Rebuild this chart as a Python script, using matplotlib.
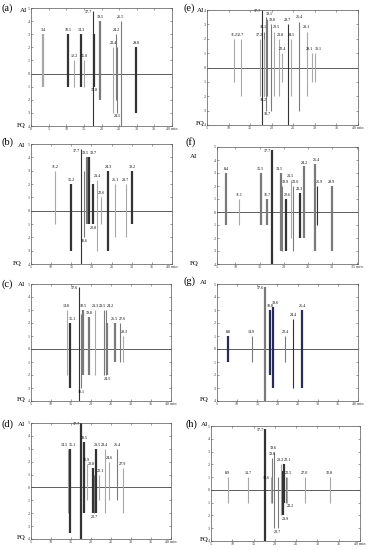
import matplotlib
matplotlib.use("Agg")
import matplotlib.pyplot as plt

plt.rcParams['font.family'] = ['Liberation Serif', 'DejaVu Serif']

W, H = 373, 550

# ---- data: retention time (min), upper (AI) and lower (FQ) extent, peak labels ----
a_pos = [3.4, 10.5, 12.2, 14.3, 15.0, 17.7, 17.8, 19.5, 23.4, 24.2, 24.5, 25.5, 29.8]
a_top = [3, 3, 1, 3, 1, 4.8, 3, 4, 2, 3, 2, 4, 2]
a_bot = [-1, -1, -1, -1, -1, -4, -1, -2, -3, -2, -3, -4, -3]
a_lab = ['3.4', '10.5', '12.2', '14.3', '15.0', '17.7', '17.8', '19.5', '23.4', '24.2', '24.5', '25.5', '29.8']

b_pos = [10.9, 14.9, 17.4, 18.1, 19.0, 19.4, 20.5, 21.3, 22.4, 24.2, 25.9, 28.5, 30.1]
b_top = [3, 2, 4.6, 3, 4, 4, 2, 2.3, 1, 3, 2, 2, 3]
b_bot = [-1, -3, -4, -2, -1, -1, -1, -3, -1, -3, -2, -2, -1]
b_lab = ['11.2', '15.2', '17.7', '18.6', '19.5', '19.7', '20.8', '21.4', '22.6', '24.3', '26.1', '28.7', '30.2']

c_pos = [14.1, 14.7, 17.1, 17.6, 18.1, 19.5, 21.0, 23.2, 23.7, 24.1, 26.1, 27.2, 28.0]
c_top = [3, 2, 4.8, 2.7, 3, 2.5, 3, 3, 3, 2, 2, 2, 1]
c_bot = [-2, -3, -4, -3, -2, -2, -2, -2, -2, -2, -1, -1, -1]
c_lab = ['14.8', '15.1', '17.6', '18.1', '18.5', '19.8', '21.3', '23.5', '24.2', '24.5', '26.5', '27.6', '28.3']

d_pos = [14.2, 14.8, 17.5, 18.3, 19.0, 20.4, 20.8, 21.2, 22.0, 23.4, 24.6, 26.5, 27.9]
d_top = [3, 3, 5, 3.5, 1.8, 1.5, 1, 3, 1, 3, 2, 3, 1.5]
d_bot = [-2, -3.5, -4, -2, -1, -2, -2, -2, -1, -2, -1, -1, -2]
d_lab = ['14.5', '15.1', '17.7', '18.5', '18.9', '20.8', '20.7', '21.5', '22.1', '23.4', '24.6', '26.4', '27.9']

e_pos = [11.3, 12.8, 17.2, 17.7, 18.1, 18.2, 18.6, 18.9, 19.8, 20.5, 21.8, 22.4, 23.7, 24.5, 26.4, 28.1, 29.3, 30.1]
e_top = [2, 2, 2, 4, 2.5, 2, 3.5, 3.4, 3, 2.5, 2, 1, 3, 2, 3.2, 2.5, 1, 1]
e_bot = [-1, -2, -2, -4, -2, -2, -3, -2, -3, -2, -2, -1, -4, -2, -3, -2, -1, -1]
e_lab = ['11.2', '12.7', '17.2', '17.7', '18.1', '18.2', '18.7', '19.1', '19.8', '20.5', '21.8', '22.4',
         '23.7', '24.5', '26.4', '28.1', '29.1', '30.1']

f_pos = [8.1, 10.8, 15.2, 16.6, 17.6, 19.4, 19.7, 20.4, 21.4, 21.9, 23.3, 24.2, 26.4, 26.9, 29.9]
f_top = [3, 1, 3, 1, 4.8, 3, 2, 1, 2.5, 2, 1.5, 3.5, 3.7, 2, 2]
f_bot = [-1, -1, -1, -1, -4, -3, -3, -3, -2, -3, -2, -2, -3, -1, -3]
f_lab = ['8.4', '11.1', '15.5', '16.7', '17.7', '19.5', '19.9', '20.6', '21.5', '22.0', '23.3', '24.2',
         '26.4', '26.9', '29.9']

g_pos = [7.8, 13.6, 16.9, 18.1, 18.9, 21.9, 23.9, 26.1]
g_top = [1, 1, 4.8, 3, 3.2, 1, 2.3, 3]
g_bot = [-1, -1, -4, -2, -3, -1, -3, -3]
g_lab = ['8.8', '14.9', '17.6', '18.8', '19.6', '22.4', '24.4', '26.4']

h_pos = [8.9, 13.7, 17.7, 19.0, 19.3, 19.7, 20.7, 21.4, 21.9, 22.1, 22.5, 22.9, 27.0, 32.9]
h_top = [1, 1, 4.8, 1, 2.5, 3, 1, 2, 1.5, 2, 1, 1, 1, 1]
h_bot = [-1, -1, -4, -1, -1, -3, -3, -2, -2, -1, -1, -1, -1, -1]
h_lab = ['8.9', '13.7', '17.7', '18.6', '19.6', '19.6', '20.7', '21.2', '21.9', '22.1', '22.5', '23.2',
         '27.0', '32.8']

# ---- styles (tone per line: l light, m mid, d dark, n navy; upper case = thick) ----
TONES = {'l': '#a8a8a8', 'm': '#7a7a7a', 'd': '#333333', 'n': '#262b5c'}
a_sty = ['L', 'D', 'l', 'D', 'l', 'd', 'D', 'M', 'l', 'm', 'm', 'm', 'D']
b_sty = ['l', 'D', 'd', 'm', 'M', 'D', 'D', 'l', 'l', 'D', 'l', 'l', 'D']
c_sty = ['l', 'D', 'd', 'm', 'M', 'M', 'l', 'm', 'm', 'M', 'M', 'm', 'l']
d_sty = ['l', 'D', 'D', 'D', 'l', 'D', 'm', 'D', 'l', 'l', 'l', 'm', 'l']
e_sty = ['l', 'l', 'l', 'd', 'm', 'l', 'm', 'm', 'm', 'l', 'l', 'l', 'd', 'l', 'm', 'l', 'l', 'l']
f_sty = ['M', 'l', 'M', 'M', 'D', 'M', 'm', 'D', 'l', 'm', 'D', 'M', 'M', 'd', 'M']
g_sty = ['N', 'm', 'M', 'N', 'N', 'm', 'n', 'N']
h_sty = ['l', 'l', 'D', 'l', 'm', 'm', 'm', 'l', 'D', 'D', 'm', 'l', 'l', 'l']

# labels drawn below the lower end / to the left of the top
BELOW = {'a': ['17.8', '24.5'], 'b': ['18.6', '20.8'], 'c': ['18.1', '24.5'], 'd': ['20.7'],
         'e': ['18.2', '18.7'], 'f': [], 'g': [], 'h': ['20.7', '21.9', '23.2']}
LEFT = {'a': ['17.7'], 'b': ['17.7'], 'c': ['17.6'], 'd': ['17.7'], 'e': ['17.7'],
        'f': ['17.7'], 'g': ['17.6'], 'h': ['17.7', '18.6']}
# sideways nudges of crowded labels (minutes)
SHIFT = {'b': {'19.5': -0.6, '19.7': 1.1, '21.4': 0.3},
         'c': {'14.8': -0.4, '15.1': 0.6, '23.5': -0.3, '24.2': 1.2, '26.5': -0.3, '27.6': 0.7,
               '28.3': 0.4},
         'd': {'14.5': -0.8, '15.1': 0.5, '18.9': -0.2, '20.8': -0.3, '21.5': 0.3, '22.1': 0.3},
         'e': {'19.1': 0.5, '19.8': 0.3, '20.5': 0.5, '21.8': 0.2, '18.2': -0.2, '18.7': 0.3,
               '29.1': -0.5, '30.1': 0.6},
         'f': {'19.5': -0.3, '19.9': 0.55, '20.6': 0.3, '22.0': 0.55, '26.4': 0.4, '26.9': 0.5},
         'g': {'19.6': 0.6},
         'h': {'21.9': 0.5, '22.1': 0.9, '22.5': 0.8, '23.2': 0.7}}

# axes boxes in pixels: left, top, right, bottom
BOX = {'a': (31, 8, 172, 126), 'e': (207, 10, 358, 125),
       'b': (31, 144, 172, 264), 'f': (217, 147, 358, 264),
       'c': (31, 284, 171, 401), 'g': (217, 284, 358, 401),
       'd': (31, 423, 171, 539), 'h': (211, 426, 360, 541)}

fig = plt.figure(figsize=(W / 100, H / 100), dpi=100)


def px(x, y):
    return x / W, 1 - y / H


def draw(key, pos, top, bot, lab, sty, xlim=(5, 40), ylim=(-4, 5)):
    l, t, r, b = BOX[key]
    ax = fig.add_axes([l / W, 1 - b / H, (r - l) / W, (b - t) / H])
    ax.set_xlim(*xlim)
    ax.set_ylim(*ylim)
    ax.axhline(0, color='#444444', lw=0.6)
    nudge = SHIFT.get(key, {})
    for x, y1, y0, s, tx in zip(pos, top, bot, sty, lab):
        lw = 1.6 if s.isupper() else 0.8
        ax.vlines(x, y0, y1, color=TONES[s.lower()], lw=lw)
        dx = nudge.get(tx, 0)
        if tx in BELOW[key]:
            ax.text(x + dx, y0 - 0.12, tx, fontsize=3, ha='center', va='top')
        elif tx in LEFT[key]:
            ax.text(x - 0.3, y1 - 0.1, tx, fontsize=3, ha='right', va='center')
        else:
            ax.text(x + dx, y1 + 0.15, tx, fontsize=3, ha='center', va='bottom')
    yt = list(range(ylim[0], ylim[1] + 1))
    ax.set_yticks(yt)
    ax.set_yticklabels([str(abs(v)) for v in yt])
    xt = list(range(int(xlim[0]), 41, 5))
    xt = [v for v in xt if xlim[0] <= v <= xlim[1]]
    ax.set_xticks(xt)
    ax.set_xticklabels([str(v) for v in xt[:-1]] + [f'{xt[-1]} min'])
    ax.tick_params(direction='in', length=1.5, width=0.4, labelsize=3, pad=1,
                   top=True, right=True, colors='#555555', labelcolor='#333333')
    for sp in ax.spines.values():
        sp.set_linewidth(0.5)
        sp.set_color('#555555')
    return ax


draw('a', a_pos, a_top, a_bot, a_lab, a_sty, xlim=(0, 40))
draw('b', b_pos, b_top, b_bot, b_lab, b_sty)
draw('c', c_pos, c_top, c_bot, c_lab, c_sty)
draw('d', d_pos, d_top, d_bot, d_lab, d_sty)
draw('e', e_pos, e_top, e_bot, e_lab, e_sty, ylim=(-4, 4))
axf = draw('f', f_pos, f_top, f_bot, f_lab, f_sty, xlim=(6.2, 35.3))
axf.set_xticks([6.2, 10, 15, 20, 25, 30, 35])
axf.set_xticklabels(['5', '10', '15', '20', '25', '30', '35 min'])
draw('g', g_pos, g_top, g_bot, g_lab, g_sty)
draw('h', h_pos, h_top, h_bot, h_lab, h_sty)

# panel letters and AI / FQ captions (pixel positions)
CAPS = [('(a)', 2, 8), ('(b)', 2, 142), ('(c)', 2, 284), ('(d)', 2, 424),
        ('(e)', 183, 8), ('(f)', 186, 142), ('(g)', 184, 281), ('(h)', 186, 424)]
for txt, x, y in CAPS:
    fig.text(*px(x, y), txt, fontsize=7.5, ha='left', va='center')

AI = [(20, 10), (18, 146), (18, 285), (18, 424), (197, 10), (190, 157), (200, 282), (201, 425)]
FQ = [(17, 125), (13, 263), (17, 400), (17, 538), (196, 124), (190, 263), (200, 400), (200, 540)]
for x, y in AI:
    fig.text(*px(x, y), 'AI', fontsize=5, ha='left', va='center')
for x, y in FQ:
    fig.text(*px(x, y), 'FQ', fontsize=5, ha='left', va='center')

fig.savefig('out.png', dpi=100, facecolor='white')
